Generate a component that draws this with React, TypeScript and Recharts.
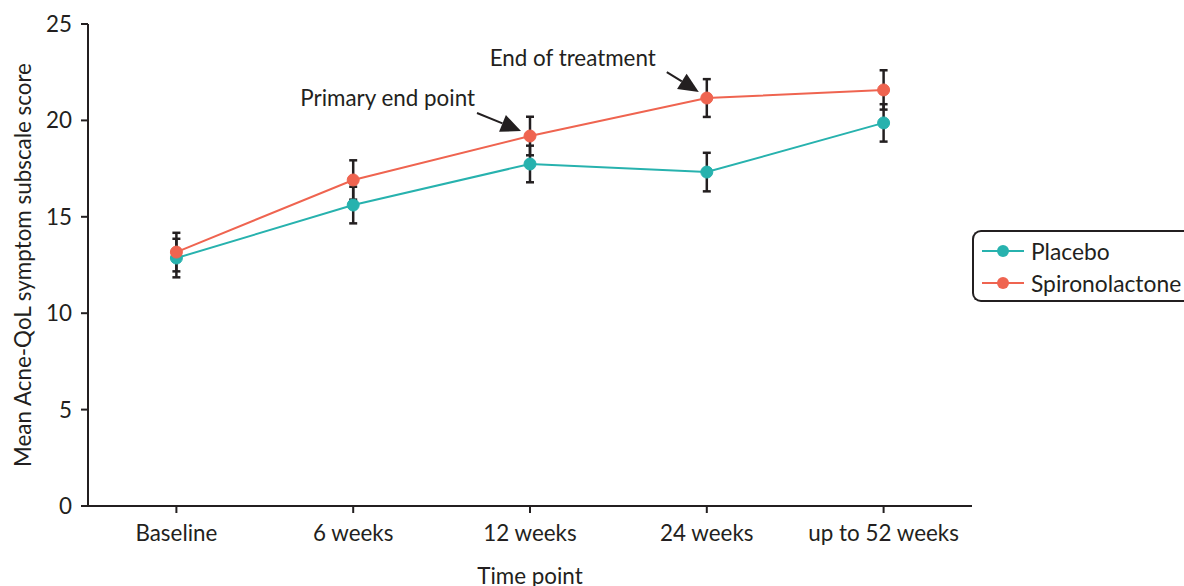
import React from 'react';
import { LineChart, Line, XAxis, YAxis, ErrorBar, Legend, LabelList } from 'recharts';

const categories = ['Baseline', '6 weeks', '12 weeks', '24 weeks', 'up to 52 weeks'];
const placeboMean = [12.86, 15.61, 17.74, 17.32, 19.87];
const placeboErr = [1.0, 0.95, 0.95, 1.0, 0.97];
const spiroMean = [13.17, 16.91, 19.19, 21.16, 21.58];
const spiroErr = [1.0, 1.02, 1.0, 0.98, 1.02];
const annotations = ['', '', 'Primary end point', 'End of treatment', ''];
const yTicks = [0, 5, 10, 15, 20, 25];

const data = categories.map((c, i) => ({
  category: c,
  placebo: placeboMean[i],
  placeboErr: placeboErr[i],
  spiro: spiroMean[i],
  spiroErr: spiroErr[i],
  annotation: annotations[i],
}));

const TEAL = '#27b2ae';
const CORAL = '#ef6450';
const DARK = '#231f20';
const FONT = 'Lato, "Open Sans", sans-serif';
const FS = 22.4;

const arrowGeom: Record<number, { tx: number; ty: number; ax0: number; ay0: number; ax1: number; ay1: number }> = {
  2: { tx: -55, ty: -39, ax0: -53, ay0: -23, ax1: -9, ay1: -5 },
  3: { tx: -51, ty: -41, ax0: -40, ay0: -26, ax1: -8, ay1: -6 },
};

const Annotation = (props: any) => {
  const { x, y, value, index } = props;
  if (!value) return null;
  const g = arrowGeom[index] || arrowGeom[2];
  const x0 = x + g.ax0, y0 = y + g.ay0, x1 = x + g.ax1, y1 = y + g.ay1;
  const dx = x1 - x0, dy = y1 - y0;
  const len = Math.sqrt(dx * dx + dy * dy);
  const ux = dx / len, uy = dy / len;
  const hl = 20, hw = 9;
  const bx = x1 - ux * hl, by = y1 - uy * hl;
  const nx = -uy, ny = ux;
  return (
    <g>
      <text x={x + g.tx} y={y + g.ty} textAnchor="end" dominantBaseline="central" fontFamily={FONT} fontSize={FS} fill={DARK}>
        {value}
      </text>
      <line x1={x0} y1={y0} x2={bx} y2={by} stroke={DARK} strokeWidth={2} />
      <polygon points={`${x1},${y1} ${bx + nx * hw},${by + ny * hw} ${bx - nx * hw},${by - ny * hw}`} fill={DARK} />
    </g>
  );
};

const YLabel = (props: any) => {
  const { viewBox } = props;
  const cx = viewBox.x + 22;
  const cy = viewBox.y + viewBox.height / 2;
  return (
    <text x={cx} y={cy} transform={`rotate(-90, ${cx}, ${cy})`} textAnchor="middle" dominantBaseline="central" fontFamily={FONT} fontSize={FS} fill={DARK}>
      Mean Acne-QoL symptom subscale score
    </text>
  );
};

const XLabel = (props: any) => {
  const { viewBox } = props;
  const cx = viewBox.x + viewBox.width / 2;
  const cy = viewBox.y + 69;
  return (
    <text x={cx} y={cy} textAnchor="middle" dominantBaseline="central" fontFamily={FONT} fontSize={FS} fill={DARK}>
      Time point
    </text>
  );
};

const LegendBox = (props: any) => {
  const { payload } = props;
  return (
    <div
      style={{
        boxSizing: 'border-box',
        width: 212,
        height: 72,
        border: `2px solid ${DARK}`,
        borderRight: 'none',
        borderRadius: '9px 0 0 9px',
        padding: '3px 0 0 8px',
        fontFamily: FONT,
        fontSize: 22.8,
        color: DARK,
        background: '#fff',
      }}
    >
      {(payload || []).map((p: any) => (
        <div key={p.value} style={{ display: 'flex', alignItems: 'center', height: 32, lineHeight: '32px' }}>
          <svg width={42} height={16} style={{ marginRight: 7, flex: 'none' }}>
            <line x1={0} y1={8} x2={42} y2={8} stroke={p.color} strokeWidth={2} />
            <circle cx={21} cy={8} r={6} fill={p.color} />
          </svg>
          <span style={{ whiteSpace: 'nowrap' }}>{p.value}</span>
        </div>
      ))}
    </div>
  );
};

export default function App() {
  return (
    <div style={{ position: 'absolute', left: 0, top: 0 }}>
      <LineChart width={1184} height={586} data={data} margin={{ top: 24, right: 0, bottom: 0, left: 0 }}>
        <XAxis
          dataKey="category"
          scale="band"
          height={80}
          tickSize={7}
          tickMargin={12}
          stroke={DARK}
          strokeWidth={2}
          tick={{ fill: DARK, fontSize: FS, fontFamily: FONT }}
          label={<XLabel />}
        />
        <YAxis
          domain={[0, 25]}
          ticks={yTicks}
          width={88}
          tickSize={7}
          tickMargin={9}
          stroke={DARK}
          strokeWidth={2}
          tick={{ fill: DARK, fontSize: FS, fontFamily: FONT }}
          label={<YLabel />}
        />
        <Legend
          layout="vertical"
          align="right"
          verticalAlign="middle"
          wrapperStyle={{ width: 212, top: 230 }}
          content={<LegendBox />}
        />
        <Line
          name="Placebo"
          dataKey="placebo"
          stroke={TEAL}
          strokeWidth={2}
          dot={{ r: 6, fill: TEAL, stroke: TEAL, strokeWidth: 1 }}
          isAnimationActive={false}
        >
          <ErrorBar dataKey="placeboErr" width={4} stroke={DARK} strokeWidth={2.5} direction="y" />
        </Line>
        <Line
          name="Spironolactone"
          dataKey="spiro"
          stroke={CORAL}
          strokeWidth={2}
          dot={{ r: 6, fill: CORAL, stroke: CORAL, strokeWidth: 1 }}
          isAnimationActive={false}
        >
          <ErrorBar dataKey="spiroErr" width={4} stroke={DARK} strokeWidth={2.5} direction="y" />
          <LabelList dataKey="annotation" content={<Annotation />} />
        </Line>
      </LineChart>
    </div>
  );
}
